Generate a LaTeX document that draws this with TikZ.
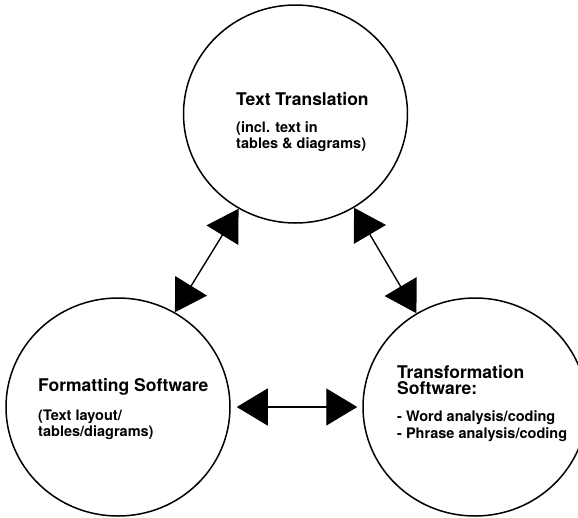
\documentclass[tikz,border=0pt]{standalone}
\usepackage{fontspec}
\setmainfont{TeX Gyre Heros}
\usetikzlibrary{arrows.meta,shapes.geometric}

\tikzset{
	topic/.style={draw, ellipse, line width=1.5pt, minimum width=224pt, minimum height=218pt, inner sep=0pt},
	head/.style={anchor=west, align=left, inner sep=0pt, font=\fontsize{17.5}{16}\selectfont\bfseries},
	note/.style={anchor=west, align=left, inner sep=0pt, font=\fontsize{14.5}{16.5}\selectfont\bfseries},
	link/.style={{Triangle[length=31pt,width=37pt]}-{Triangle[length=31pt,width=37pt]}, line width=1.4pt},
}

\begin{document}
\begin{tikzpicture}[x=1pt,y=-1pt]
		\useasboundingbox (0,0) rectangle (578,517);

		\node[topic] (translation) at (295.5,114) {};
		\node[topic] (formatting) at (118,407) {};
		\node[topic] (transformation) at (475,407) {};

		\node[head] (translationhead) at (236,99) {Text Translation};
		\node[note] (translationnote) at (236,136.5) {(incl. text in\\tables \& diagrams)};

		\node[head] (formattinghead) at (38,387) {Formatting Software};
		\node[note] (formattingnote) at (38,425) {(Text layout/\\tables/diagrams)};

		\node[head] (transformationhead) at (397,380.5) {Transformation\\Software:};
		\node[note] (transformationnote) at (397,426) {- Word analysis/coding\\- Phrase analysis/coding};

		\draw[link] (translation.239) -- (formatting.59);
		\draw[link] (translation.302) -- (transformation.122);
		\draw[link, shorten <=6pt, shorten >=5pt] (formatting.east) -- (transformation.west);
	\end{tikzpicture}
\end{document}
